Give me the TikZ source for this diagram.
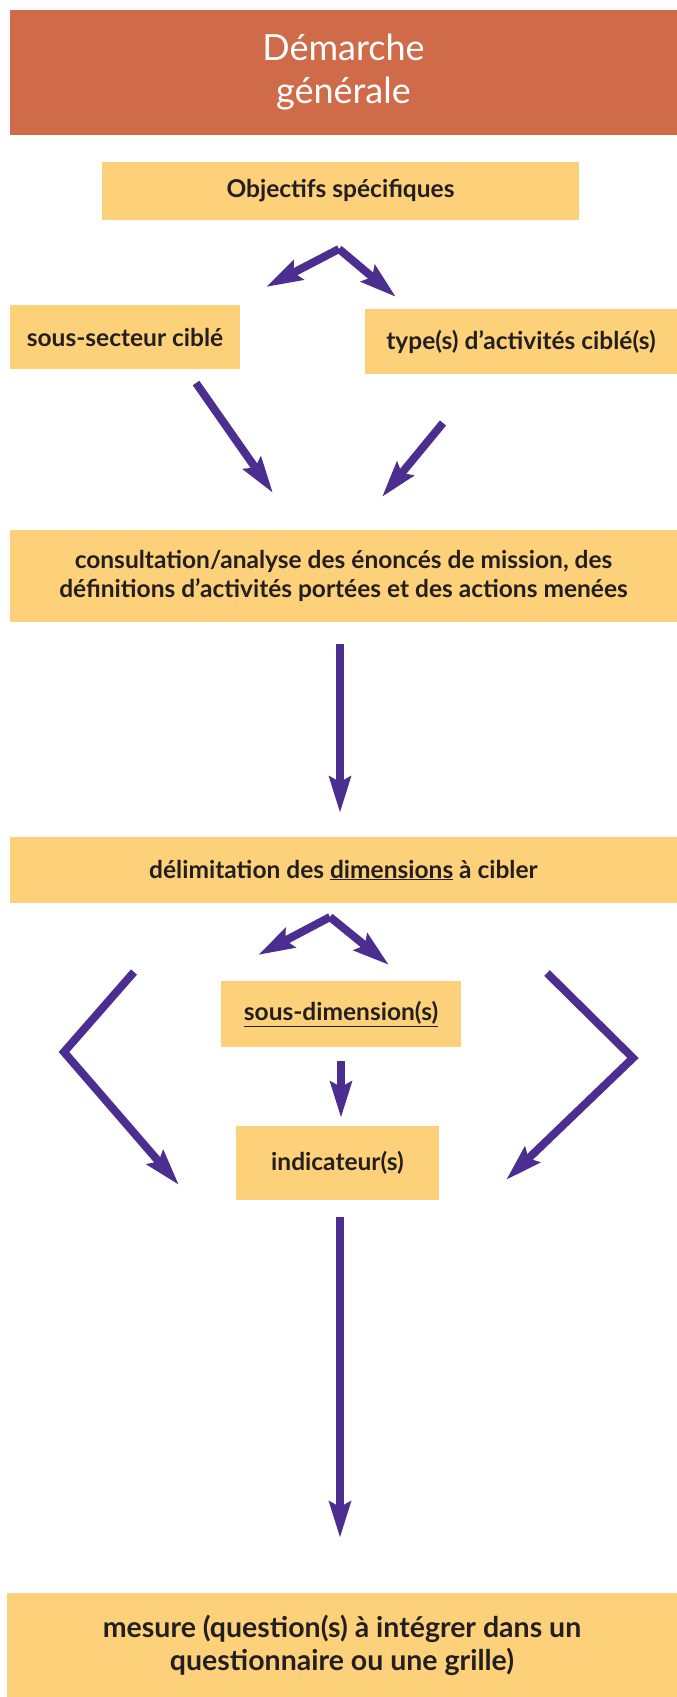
\documentclass[tikz,border=0pt]{standalone}
\usepackage{fontspec}
\setmainfont{Lato}
\newfontfamily\titlefont{Lato}
\usetikzlibrary{arrows.meta}
\definecolor{titlec}{HTML}{CF6B48}
\definecolor{boxc}{HTML}{FDD07A}
\definecolor{arrowc}{HTML}{4B2E90}
\definecolor{textc}{HTML}{231F20}
\begin{document}
\begin{tikzpicture}[x=1pt,y=-1pt,
  box/.style={fill=boxc, draw=none, inner sep=0pt, text=textc, align=center,
    font=\fontsize{24.5}{29}\selectfont\bfseries},
  titlebox/.style={fill=titlec, draw=none, inner sep=0pt, text=white, align=center,
    font=\fontsize{36}{43}\titlefont},
  arr/.style={draw=arrowc, line width=8pt, line join=miter,
    -{Stealth[length=36pt,width=21pt,inset=5pt]}}
]
\useasboundingbox (0,0) rectangle (677,1697);
\fill[white] (0,0) rectangle (677,1697);

\node[titlebox, minimum width=667pt, minimum height=125pt] (title) at (343.5,72.5) {Démarche\\générale};
\node[box, minimum width=477pt, minimum height=58pt] (obj) at (340.5,191) {Objectifs spécifiques};
\node[box, minimum width=230pt, minimum height=64pt] (sous) at (125,337) {sous-secteur ciblé};
\node[box, minimum width=312pt, minimum height=65pt] (type) at (521,341.5) {type(s) d’activités ciblé(s)};
\node[box, minimum width=667pt, minimum height=92pt] (consult) at (343.5,576) {consultation/analyse des énoncés de mission, des\\définitions d’activités portées et des actions menées};
\node[box, minimum width=667pt, minimum height=66pt] (delim) at (343.5,870) {délimitation des \underline{dimensions} à cibler};
\node[box, minimum width=240pt, minimum height=66pt] (sousdim) at (341,1014) {\underline{sous-dimension(s)}};
\node[box, minimum width=203pt, minimum height=74pt] (indic) at (337.5,1163) {indicateur(s)};
\node[box, minimum width=670pt, minimum height=104pt, font=\fontsize{28.5}{33}\selectfont\bfseries] (mesure) at (342,1645) {mesure (question(s) à intégrer dans un\\questionnaire ou une grille)};

% fork 1
\coordinate (f1) at (339,249);
\coordinate (f1l) at (266,287);
\coordinate (f1r) at (396,297);
\draw[arr] (f1) -- (f1l);
\draw[arr] (f1) -- (f1r);
% converging arrows
\coordinate (s1) at (196,383);
\coordinate (e1) at (273,493);
\coordinate (s2) at (443,423);
\coordinate (e2) at (382,497);
\draw[arr] (s1) -- (e1);
\draw[arr] (s2) -- (e2);
% consult -> delim
\coordinate (s3) at (340,644);
\coordinate (e3) at (340,813);
\draw[arr] (s3) -- (e3);
% fork 2
\coordinate (f2) at (330,917);
\coordinate (f2l) at (258,955);
\coordinate (f2r) at (389,965);
\draw[arr] (f2) -- (f2l);
\draw[arr] (f2) -- (f2r);
% sousdim -> indic
\coordinate (s4) at (341,1061);
\coordinate (e4) at (341,1118);
\draw[arr] (s4) -- (e4);
% brackets
\coordinate (bl1) at (134,972);
\coordinate (bl2) at (64,1052);
\coordinate (bl3) at (179,1185);
\draw[arr] (bl1) -- (bl2) -- (bl3);
\coordinate (br1) at (547,973);
\coordinate (br2) at (633,1058);
\coordinate (br3) at (506,1180);
\draw[arr] (br1) -- (br2) -- (br3);
% long arrow
\coordinate (s5) at (340,1217);
\coordinate (e5) at (340,1538);
\draw[arr] (s5) -- (e5);
\end{tikzpicture}
\end{document}
